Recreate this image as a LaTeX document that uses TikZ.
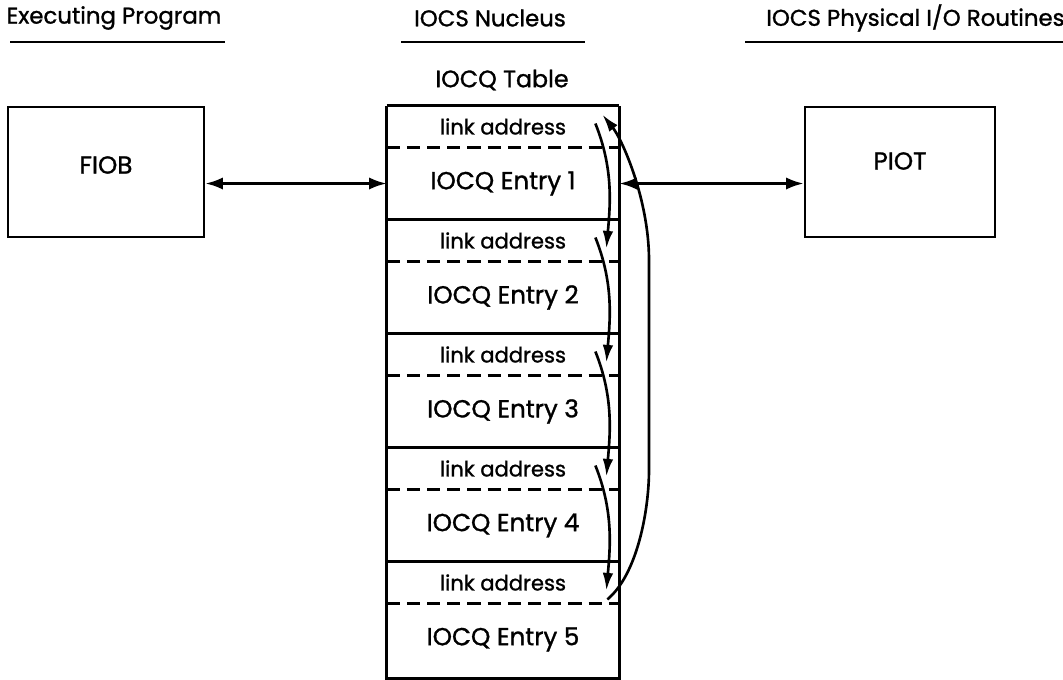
\documentclass[tikz,border=0pt]{standalone}
\usepackage{fontspec}
\setmainfont{Poppins}[FakeBold=1.2]
\usetikzlibrary{arrows.meta}

\tikzset{
  heading/.style = {font=\fontsize{13}{15}\selectfont, inner sep=0pt},
  unitbox/.style = {draw, line width=1.6pt, minimum width=3.9cm, minimum height=2.6cm},
  unitname/.style = {font=\fontsize{14}{16}\selectfont, inner sep=0pt},
  qrow/.style    = {minimum width=4.6cm, inner sep=0pt},
  dashsep/.style = {line width=1.6pt, dash pattern=on 7.5pt off 4pt},
  bothends/.style = {{Latex[length=10pt,width=7pt]}-{Latex[length=10pt,width=7pt]}, line width=1.5pt},
  link/.style    = {-{Latex[length=10pt,width=6pt]}, line width=1.5pt},
}

\begin{document}
\begin{tikzpicture}[x=0.02cm, y=-0.02cm, line width=1.6pt]

    \useasboundingbox (0,0) rectangle (1063,680);

    % Column headings
    \node[heading] (exec) at (114,18) {Executing Program};
    \node[heading] (nucleus) at (490,18) {IOCS Nucleus};
    \node[heading, anchor=east] (physical) at (1066,18) {IOCS Physical I/O Routines};
    \draw (10,42) -- (225,42);
    \draw (401,42) -- (585,42);
    \draw (745,42) -- (1063,42);

    % Outer units
    \node[unitbox, minimum width=3.92cm, minimum height=2.6cm] (fiob) at (106,172) {};
    \node[unitname] (fiob-label) at (106,165) {FIOB};
    \node[unitbox, minimum width=3.8cm, minimum height=2.6cm] (piot) at (900,172) {};
    \node[unitname] (piot-label) at (900,161) {PIOT};

    % IOCQ table
    \node[heading, font=\fontsize{13.5}{15}\selectfont] (title) at (502,80) {IOCQ Table};
    \foreach \k in {1,...,5}
    {
        \pgfmathsetmacro\ytop{107+(\k-1)*114}
        \node[qrow, minimum height=0.78cm, font=\fontsize{12}{14}\selectfont]
            (link-\k) at (503,\ytop+19.5) {link address};
        \node[qrow, minimum height=1.5cm, font=\fontsize{14}{16}\selectfont]
            (entry-\k) at (503,\ytop+76.5) {IOCQ Entry \k};
        \draw (link-\k.north west) -- (link-\k.north east);
        \draw[dashsep] (link-\k.south west) -- (link-\k.south east);
    }
    \draw (link-1.north west) -- (entry-5.south west) -- (entry-5.south east) -- (link-1.north east);

    % Table to the outer units
    \draw[bothends] (fiob.east |- entry-1.west) -- (entry-1.west);
    \draw[bothends] (entry-1.east) -- (piot.west |- entry-1.east);

    % Chain of link addresses
    \foreach \k [evaluate=\k as \n using int(\k+1)] in {1,...,4}
    {
        \draw[link] ([shift={(-24,-3)}]link-\k.east)
            .. controls +(18,45) and +(4,-45) .. ([shift={(-13,8)}]link-\n.east);
    }

    % Last link back to the first
    \draw[link] ([shift={(-12,-4)}]link-5.south east)
        .. controls +(30,-25) and +(0,40) .. (649,470)
        -- (649,260)
        .. controls +(0,-60) and +(20,25) .. ([shift={(-17,9)}]link-1.north east);

\end{tikzpicture}
\end{document}
